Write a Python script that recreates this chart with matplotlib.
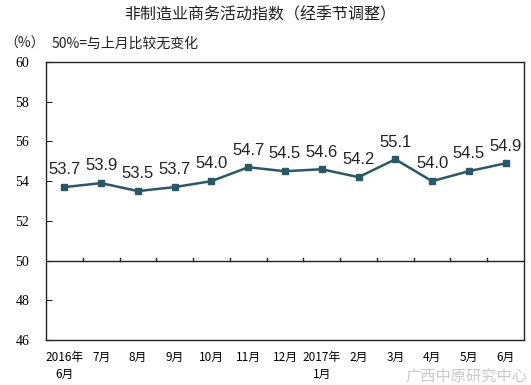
import matplotlib.pyplot as plt
import numpy as np

plt.rcParams['font.family'] = ['Noto Sans CJK SC', 'DejaVu Sans']

months = ["2016年\n6月", "7月", "8月", "9月", "10月", "11月", "12月",
          "2017年\n1月", "2月", "3月", "4月", "5月", "6月"]
values = [53.7, 53.9, 53.5, 53.7, 54.0, 54.7, 54.5, 54.6, 54.2, 55.1, 54.0, 54.5, 54.9]
y_ticks = [46, 48, 50, 52, 54, 56, 58, 60]

line_color = "#2b5866"

fig = plt.figure(figsize=(5.31, 3.85), dpi=100)
ax = fig.add_axes([46 / 531, 1 - 340 / 385, 478 / 531, 278 / 385])

x = np.arange(len(values))
ax.plot(x, values, color=line_color, linewidth=1.8, marker="s", markersize=4,
        markerfacecolor=line_color, markeredgecolor=line_color)
for xi, v in zip(x, values):
    ax.annotate(f"{v:.1f}", (xi, v), xytext=(0, 7), textcoords="offset points",
                ha="center", va="bottom", fontsize=12, family="Liberation Sans",
                color="#222222")

ax.set_xlim(-0.5, len(values) - 0.5)
ax.set_ylim(46, 60)
ax.set_yticks(y_ticks)
ax.set_yticklabels([str(t) for t in y_ticks], family="Liberation Serif", fontsize=10)
ax.tick_params(axis="y", direction="in", length=4, pad=12, color="#222222")
ax.set_xticks(x)
ax.set_xticklabels(months, fontsize=8.5, linespacing=1.35)
ax.tick_params(axis="x", length=0, pad=8)
for sp in ax.spines.values():
    sp.set_color("#222222")
    sp.set_linewidth(1.0)

# category axis crossing at 50
ax.axhline(50, color="#222222", linewidth=1.0)
for b in np.arange(0.5, len(values) - 0.5, 1.0):
    ax.plot([b, b], [50, 50.15], color="#222222", linewidth=1.0)

fig.text(0.49, 1 - 15 / 385, "非制造业商务活动指数（经季节调整）", ha="center", va="center",
         fontsize=11.5, color="#222222")
fig.text(4 / 531, 1 - 44 / 385, "（%）", ha="left", va="center", fontsize=10, color="#222222")
fig.text(52 / 531, 1 - 44 / 385, "50%=与上月比较无变化", ha="left", va="center",
         fontsize=10, color="#222222")

# watermark
fig.text(405 / 531, 1 - 376 / 385, "广西中原研究中心", ha="left", va="center",
         fontsize=11, color="#c4c4c4", alpha=0.9)

fig.savefig("out.png", dpi=100)
